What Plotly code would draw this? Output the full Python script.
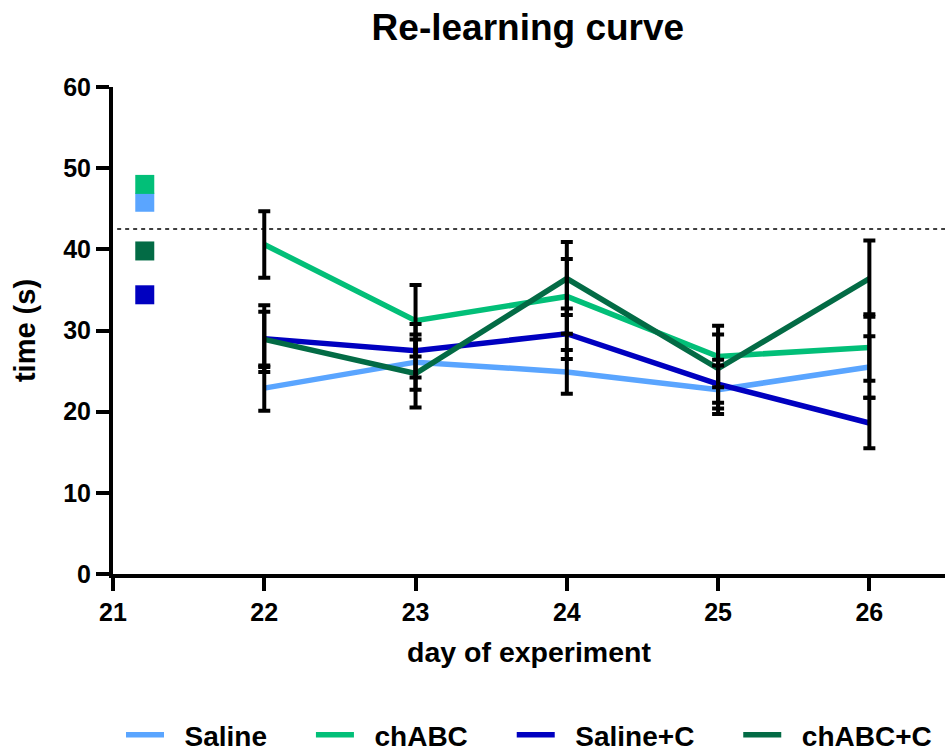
import plotly.graph_objects as go

# ---- data ----
days = [22, 23, 24, 25, 26]
groups = ["Saline", "chABC", "Saline+C", "chABC+C"]
colors = ["#5AA5FF", "#02BF78", "#0000C0", "#036B45"]

saline_mean = [22.9, 26.1, 24.9, 22.7, 25.5]
saline_sem = [2.8, 3.4, 2.7, 3.0, 3.8]
chabc_mean = [40.6, 31.2, 34.2, 26.8, 27.9]
chabc_sem = [4.1, 4.4, 4.6, 3.8, 4.1]
salinec_mean = [29.0, 27.5, 29.6, 23.4, 18.6]
salinec_sem = [4.1, 3.3, 3.1, 3.0, 3.1]
chabcc_mean = [28.9, 24.7, 36.4, 25.3, 36.4]
chabcc_sem = [3.4, 4.2, 4.5, 4.2, 4.7]

baseline_day = 21.21
baseline_values = [45.8, 48.0, 34.4, 39.8]  # Saline, chABC, Saline+C, chABC+C
threshold = 42.5

x_ticks = [21, 22, 23, 24, 25, 26]
y_ticks = [0, 10, 20, 30, 40, 50, 60]

means = [saline_mean, chabc_mean, salinec_mean, chabcc_mean]
sems = [saline_sem, chabc_sem, salinec_sem, chabcc_sem]

FONT = "Liberation Sans, Arial, sans-serif"
NB = "\u00a0"

fig = go.Figure()

# lines
for i, (name, col, m) in enumerate(zip(groups, colors, means)):
    trail = NB * 5 if i < len(groups) - 1 else ""
    fig.add_trace(go.Scatter(
        x=days, y=m, mode="lines",
        name=f"<b>{NB*2}{name}{trail}</b>",
        line=dict(color=col, width=5.5),
    ))

# error bars (on top of lines)
for name, m, s in zip(groups, means, sems):
    fig.add_trace(go.Scatter(
        x=days, y=m, mode="markers", showlegend=False,
        marker=dict(size=1, color="rgba(0,0,0,0)"),
        error_y=dict(type="data", array=s, visible=True,
                     color="black", thickness=4, width=6),
        hoverinfo="skip",
    ))

# baseline squares
for name, col, v in zip(groups, colors, baseline_values):
    fig.add_trace(go.Scatter(
        x=[baseline_day], y=[v], mode="markers", showlegend=False,
        marker=dict(symbol="square", size=19, color=col, line=dict(width=0)),
    ))

fig.add_shape(type="line", xref="paper", yref="y", x0=0.005, x1=1,
              y0=threshold, y1=threshold,
              line=dict(color="black", width=1.5, dash="4px,4px"))

fig.update_layout(
    width=946, height=754,
    margin=dict(l=113, r=1, t=87, b=180),
    plot_bgcolor="white", paper_bgcolor="white",
    font=dict(family=FONT, color="black"),
    title=dict(text="<b>Re-learning curve</b>", x=0.558, xanchor="center",
               y=1 - 27 / 754, yanchor="middle",
               font=dict(size=37, family=FONT, color="black")),
    xaxis=dict(range=[21, 26.5], tickvals=x_ticks,
               ticktext=[f"<b>{t}</b>" for t in x_ticks],
               showgrid=False, zeroline=False,
               showline=True, linecolor="black", linewidth=4,
               ticks="outside", ticklen=13, tickwidth=4, tickcolor="black",
               tickfont=dict(size=25, family=FONT, color="black"),
               title=dict(text="<b>day of experiment</b>", standoff=18,
                          font=dict(size=28.5, family=FONT, color="black")),
               automargin=False),
    yaxis=dict(range=[0, 60], tickvals=y_ticks,
               ticktext=[f"<b>{t}</b>" for t in y_ticks],
               showgrid=False, zeroline=False,
               showline=True, linecolor="black", linewidth=4,
               ticks="outside", ticklen=13, tickwidth=4, tickcolor="black",
               tickfont=dict(size=25, family=FONT, color="black"),
               title=dict(text="<b>time (s)</b>", standoff=20,
                          font=dict(size=29, family=FONT, color="black")),
               automargin=False),
    legend=dict(orientation="h", x=0.5, xanchor="center",
                yref="container", y=(754 - 735) / 754, yanchor="middle",
                font=dict(size=28, family=FONT, color="black"),
                itemwidth=38, bgcolor="rgba(0,0,0,0)"),
    showlegend=True,
)

fig.write_html("out.html")
